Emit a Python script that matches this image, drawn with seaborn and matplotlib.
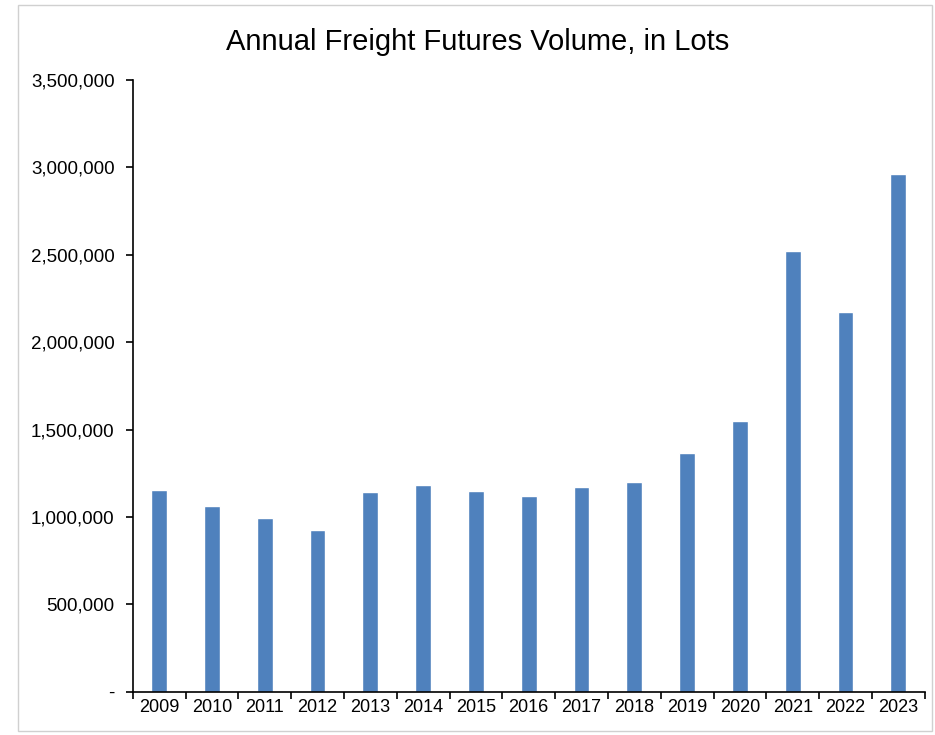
import matplotlib
matplotlib.use("Agg")
import matplotlib.pyplot as plt
import matplotlib.ticker as mticker
import pandas as pd
import seaborn as sns

# values
years = ["2009", "2010", "2011", "2012", "2013", "2014", "2015", "2016",
         "2017", "2018", "2019", "2020", "2021", "2022", "2023"]
volume = [1152000, 1063000, 995000, 926000, 1140000, 1184000, 1146000, 1118000,
          1173000, 1198000, 1366000, 1549000, 2520000, 2172000, 2962000]
y_ticks = [0, 500000, 1000000, 1500000, 2000000, 2500000, 3000000, 3500000]

df = pd.DataFrame({"year": years, "volume": volume})

sns.set_style("white")
plt.rcParams["font.family"] = ["Liberation Sans", "DejaVu Sans"]

fig = plt.figure(figsize=(9.35, 7.35), dpi=100)
ax = fig.add_axes([0.142, 0.059, 0.847, 0.832])

sns.barplot(data=df, x="year", y="volume", color="#4F81BD", width=0.3,
            saturation=1, ax=ax)

ax.set_ylim(0, 3500000)
ax.set_xlim(-0.5, len(years) - 0.5)
ax.set_yticks(y_ticks)
ax.yaxis.set_major_formatter(mticker.FuncFormatter(
    lambda v, p: "-" if v == 0 else f"{int(v):,}"))

# x ticks sit between the categories, like Excel
ax.set_xticks([i - 0.5 for i in range(len(years) + 1)], minor=True)
ax.tick_params(axis="x", which="major", length=0, labelsize=13, pad=5,
               labelcolor="black")
ax.tick_params(axis="x", which="minor", length=5, width=1.2, direction="out",
               color="black", bottom=True)
ax.tick_params(axis="y", length=5, width=1.2, direction="out", color="black",
               labelsize=13.5, left=True, pad=8, labelcolor="black")

for side in ["top", "right"]:
    ax.spines[side].set_visible(False)
for side in ["left", "bottom"]:
    ax.spines[side].set_color("black")
    ax.spines[side].set_linewidth(1.2)

ax.set_xlabel("")
ax.set_ylabel("")
fig.suptitle("Annual Freight Futures Volume, in Lots", fontsize=21, x=0.511,
             y=0.962, color="black")

# thin grey frame round the picture
fig.patches.append(plt.Rectangle((0.019, 0.005), 0.978, 0.988, transform=fig.transFigure,
                                 fill=False, edgecolor="#d0d0d0", linewidth=1))

fig.savefig("out.png", dpi=100)
